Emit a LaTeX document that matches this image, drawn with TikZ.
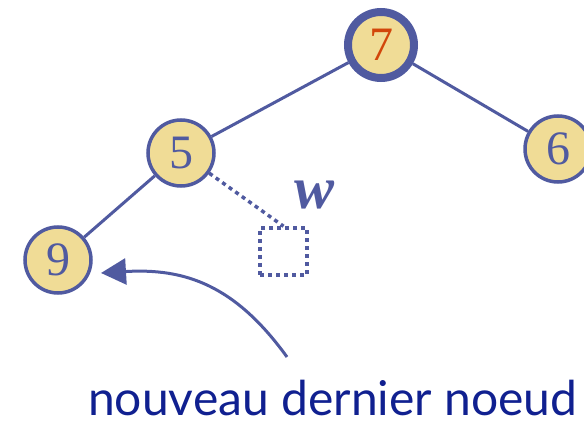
\documentclass[tikz,border=0pt]{standalone}
\usepackage{fontspec}
\usetikzlibrary{arrows.meta}
\newfontfamily\labelfont{Lato}
\newfontfamily\digitfont{Liberation Serif}
\definecolor{edgeblue}{RGB}{80,90,160}
\definecolor{nodefill}{RGB}{240,220,150}
\definecolor{rootred}{RGB}{210,70,10}
\definecolor{textblue}{RGB}{16,32,144}
\tikzset{
  treenode/.style={circle, draw=edgeblue, fill=nodefill, line width=3.5pt, minimum size=66pt, inner sep=0pt,
    text=edgeblue, font=\digitfont\fontsize{48}{48}\selectfont},
  rootnode/.style={treenode, line width=8pt, text=rootred},
  edge/.style={draw=edgeblue, line width=3pt},
  dotline/.style={draw=edgeblue, line width=3.5pt, dash pattern=on 4pt off 4pt},
  emptybox/.style={rectangle, draw=edgeblue, line width=3.5pt, dash pattern=on 4pt off 4pt, minimum size=47pt, inner sep=0pt},
  pointer/.style={draw=edgeblue, line width=3pt, -{Triangle[length=25pt,width=26pt]}},
}
\begin{document}
\begin{tikzpicture}[x=1pt,y=-1pt]
\useasboundingbox (0,0) rectangle (584,422);
\node[rootnode] (n7) at (381,45) {7};
\node[treenode] (n5) at (181,153) {5};
\node[treenode] (n6) at (558,149) {6};
\node[treenode] (n9) at (58,260) {9};
\node[emptybox] (sq) at (283.5,251.5) {};
\node[text=edgeblue, font=\digitfont\fontsize{60}{60}\selectfont\bfseries\itshape] (wl) at (315,195) {w};
\draw[edge] (n7) -- (n5);
\draw[edge] (n7) -- (n6);
\draw[edge] (n5) -- (n9);
\draw[dotline] (n5) -- (sq.north);
\coordinate (astart) at (287,357);
\coordinate (atip) at (101,273);
\draw[pointer] (astart) .. controls (235,285) and (185,268) .. (atip);
\node[anchor=base west, inner sep=0pt, text=textblue, font=\labelfont\fontsize{48}{48}\selectfont] (lbl) at (88,415) {nouveau dernier noeud};
\end{tikzpicture}
\end{document}
